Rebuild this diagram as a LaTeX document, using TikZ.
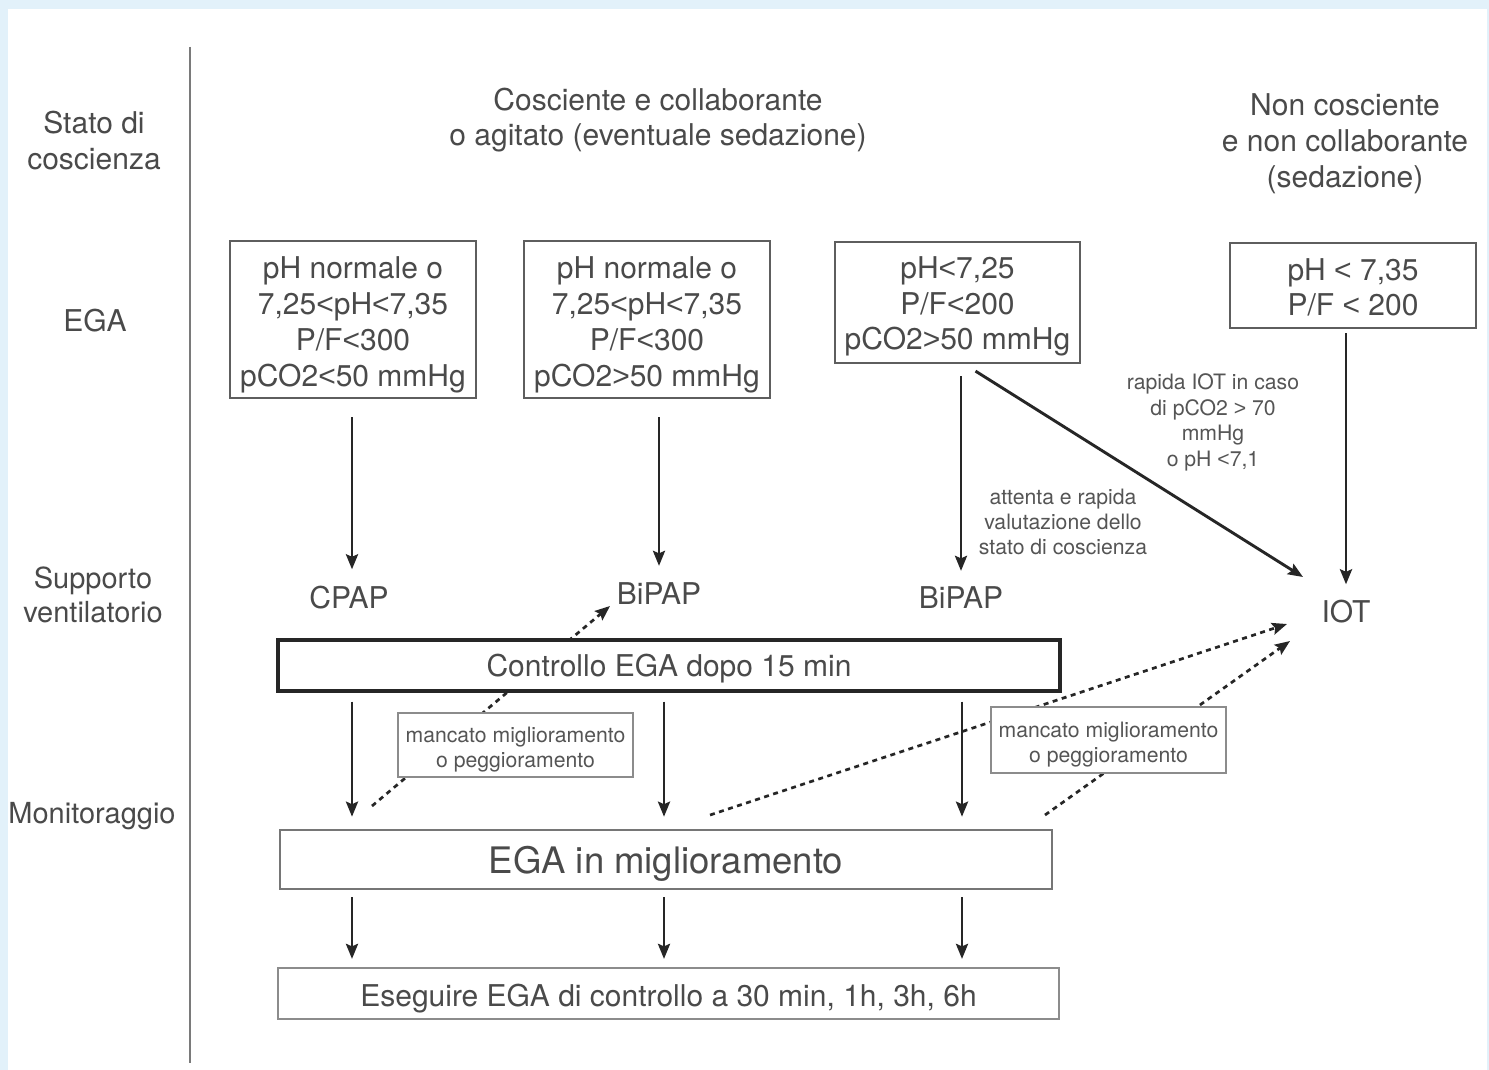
\documentclass[tikz,border=0pt]{standalone}
\usepackage{fontspec}
\setmainfont{TeX Gyre Heros}
\newfontfamily\symfont{Liberation Sans}
\newcommand\lt{{\symfont<}}
\newcommand\gt{{\symfont>}}
\usetikzlibrary{arrows.meta}
\definecolor{txt}{HTML}{4A4A4A}
\definecolor{txtsmall}{HTML}{555555}
\definecolor{bgblue}{HTML}{E2F1FA}
\definecolor{boxgray}{HTML}{5E5E5E}
\definecolor{lightbox}{HTML}{8C8C8C}
\definecolor{linedark}{HTML}{262626}
\definecolor{axisgray}{HTML}{7A7A7A}
\begin{document}
\begin{tikzpicture}[x=1pt,y=-1pt,
  maintext/.style={font=\fontsize{30}{36}\selectfont, text=txt, align=center, inner sep=0pt},
  sidetext/.style={maintext, font=\fontsize{29}{34.5}\selectfont},
  smalltext/.style={font=\fontsize{21.2}{25}\selectfont, text=txtsmall, align=center, inner sep=0pt},
  frame/.style={draw=boxgray, line width=2.2pt, fill=white, inner sep=0pt},
  noteframe/.style={draw=lightbox, line width=1.8pt, fill=white, minimum width=235pt, inner sep=0pt},
  arr/.style={line width=2.9pt, draw=linedark, -{Stealth[length=15pt,width=12pt,inset=2.5pt]}},
  dotarr/.style={line width=2.7pt, draw=linedark, dash pattern=on 5pt off 4.5pt, -{Stealth[length=15pt,width=12pt,inset=2.5pt]}}
]
\fill[bgblue] (0,0) rectangle (1489,1070);
\fill[white] (8,9) rectangle (1487,1070);
\useasboundingbox (0,0) rectangle (1489,1070);

% axis line
\coordinate (axtop) at (190,47);
\coordinate (axbot) at (190,1063);
\draw[axisgray, line width=2pt] (axtop) -- (axbot);

% column coordinates
\coordinate (c1) at (352,0);
\coordinate (c2) at (664,0);
\coordinate (c3) at (962,0);

% dotted arrows (behind boxes)
\coordinate (d1s) at (372,806);
\coordinate (d1e) at (610,606);
\coordinate (d2s) at (710,815);
\coordinate (d2e) at (1287,624);
\coordinate (d3s) at (1045,815);
\coordinate (d3e) at (1290,641);
\draw[dotarr] (d1s) -- (d1e);
\draw[dotarr] (d2s) -- (d2e);
\draw[dotarr] (d3s) -- (d3e);

% left labels
\node[maintext] (lstato) at (94,141) {Stato di\\coscienza};
\node[maintext] (lega) at (95,321) {EGA};
\node[sidetext] (lsupp) at (93,595) {Supporto\\ventilatorio};
\node[sidetext] (lmon) at (92,816) {Monitoraggio};

% headers
\node[maintext, font=\fontsize{30}{34.5}\selectfont] (hcos) at (658,120) {Cosciente e collaborante\\o agitato (eventuale sedazione)};
\node[maintext, font=\fontsize{30}{36}\selectfont] (hnon) at (1345,144) {Non cosciente\\e non collaborante\\(sedazione)};

% EGA boxes
\node[frame, minimum width=246pt, minimum height=157pt] (b1) at (353,319.5) {};
\node[frame, minimum width=246pt, minimum height=157pt] (b2) at (647,319.5) {};
\node[frame, minimum width=245pt, minimum height=121pt] (b3) at (957.5,302.5) {};
\node[frame, minimum width=246pt, minimum height=85pt] (b4) at (1353,285.5) {};
\node[maintext, font=\fontsize{30}{36}\selectfont] (b1t) at ([yshift=-5pt]b1.center) {pH normale o\\7,25\lt pH\lt 7,35\\P/F\lt 300\\pCO2\lt 50 mmHg};
\node[maintext, font=\fontsize{30}{36}\selectfont] (b2t) at ([yshift=-5pt]b2.center) {pH normale o\\7,25\lt pH\lt 7,35\\P/F\lt 300\\pCO2\gt 50 mmHg};
\node[maintext, font=\fontsize{30}{35.5}\selectfont] (b3t) at ([yshift=-4pt]b3.center) {pH\lt 7,25\\P/F\lt 200\\pCO2\gt 50 mmHg};
\node[maintext, font=\fontsize{30}{35}\selectfont] (b4t) at ([yshift=-1.5pt]b4.center) {pH \lt{} 7,35\\P/F \lt{} 200};

% support labels
\node[maintext] (cpap) at (349,598) {CPAP};
\node[maintext] (bipap1) at (659,594) {BiPAP};
\node[maintext] (bipap2) at (961,598) {BiPAP};
\node[maintext] (iot) at (1346,612) {IOT};

% small notes
\node[smalltext] (natt) at (1063,522) {attenta e rapida\\valutazione dello\\stato di coscienza};
\node[smalltext, font=\fontsize{21.2}{25.7}\selectfont] (nrap) at (1213,422.5) {rapida IOT in caso\\di pCO2 \gt{} 70\\mmHg\\o pH \lt 7,1};

% arrows EGA -> support
\draw[arr, shorten <=18pt] (b1.south -| c1) -- ([yshift=17pt]cpap.north -| c1);
\draw[arr, shorten <=18pt] (b2.south -| bipap1) -- ([yshift=17pt]bipap1.north);
\draw[arr, shorten <=12pt] (b3.south -| bipap2) -- ([yshift=16pt]bipap2.north);
\draw[arr, shorten <=4pt] (b4.south -| iot) -- ([yshift=16pt]iot.north);
\coordinate (diagend) at (1303,577);
\draw[arr] ([xshift=18pt,yshift=-7pt]b3.south) -- (diagend);

% wide boxes
\node[frame, draw=linedark, line width=3.2pt, minimum width=782pt, minimum height=51pt] (ctrl) at (669,665.5) {};
\node[maintext] (ctrlt) at ([yshift=-3pt]ctrl.center) {Controllo EGA dopo 15 min};
\node[frame, line width=2.6pt, draw=boxgray!85, minimum width=772pt, minimum height=59pt] (ega) at (666,859.5) {};
\node[maintext, font=\fontsize{36.5}{40}\selectfont] (egat) at ([yshift=-4pt]ega.center) {EGA in miglioramento};
\node[frame, draw=lightbox, line width=2.2pt, minimum width=781pt, minimum height=51pt] (ese) at (668.5,993.5) {};
\node[maintext] (eset) at ([yshift=-5pt]ese.center) {Eseguire EGA di controllo a 30 min, 1h, 3h, 6h};

% note boxes
\node[noteframe, minimum height=64pt] (m1) at (515.5,745) {};
\node[smalltext] (m1t) at ([yshift=-5pt]m1.center) {mancato miglioramento\\o peggioramento};
\node[noteframe, minimum height=66pt] (m2) at (1108.5,740) {};
\node[smalltext] (m2t) at ([yshift=-5pt]m2.center) {mancato miglioramento\\o peggioramento};

% monitoring arrows
\foreach \c in {c1,c2,c3}{
  \draw[arr, shorten <=9pt, shorten >=12pt] (ctrl.south -| \c) -- (ega.north -| \c);
  \draw[arr, shorten <=7pt, shorten >=8pt] (ega.south -| \c) -- (ese.north -| \c);
}
\end{tikzpicture}
\end{document}
